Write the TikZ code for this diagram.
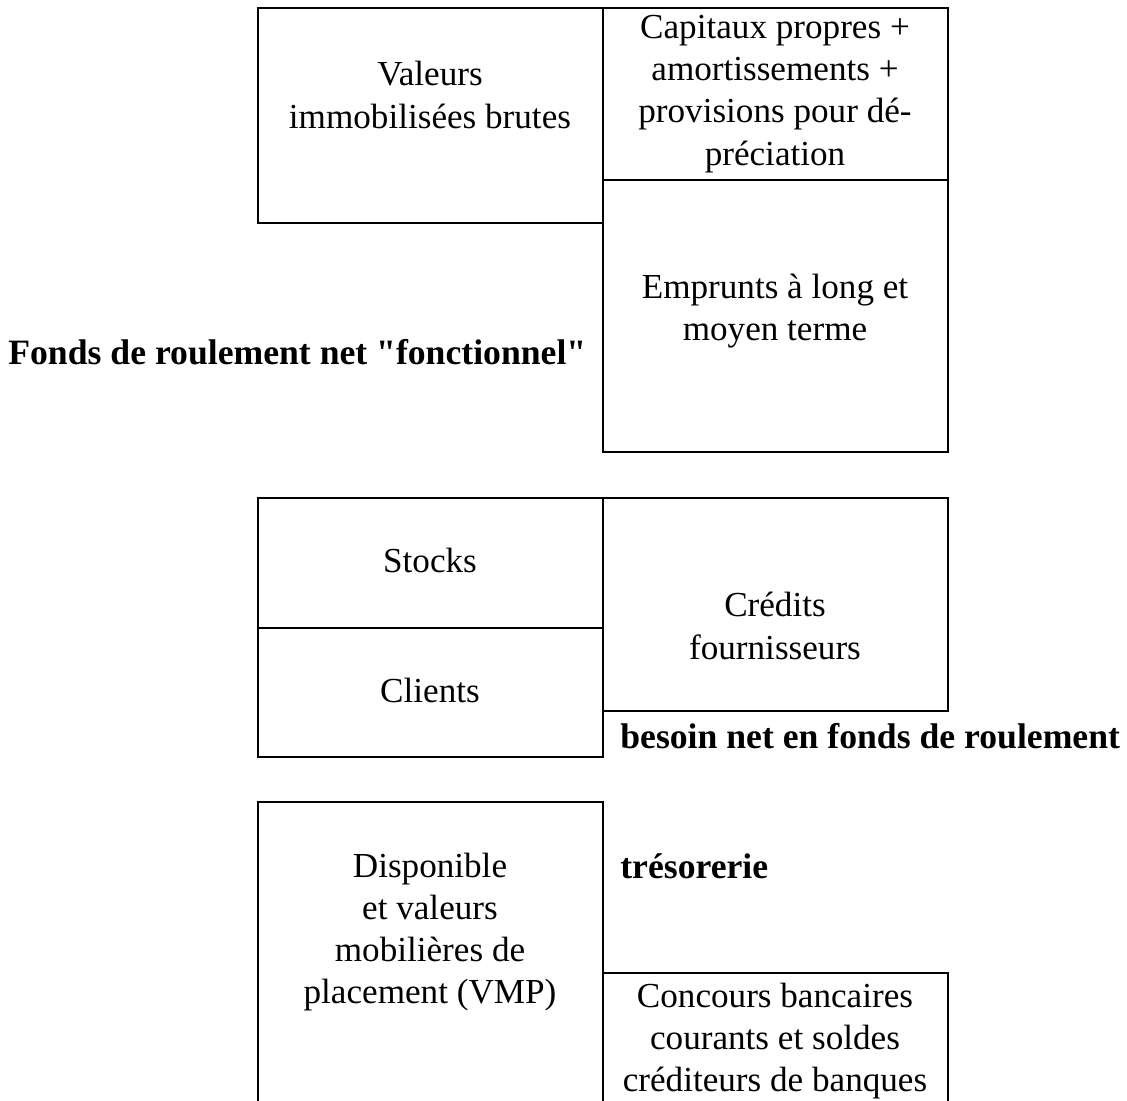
\documentclass[tikz,border=0pt]{standalone}
\usepackage{fontspec}
\setmainfont{Liberation Serif}
\newcommand{\dquote}{{\addfontfeatures{Ligatures=TeXOff}"}}

\begin{document}
\begin{tikzpicture}[x=0.02cm, y=-0.02cm,
    box/.style={draw, line width=0.9pt},
    txt/.style={align=center, font=\fontsize{20}{24}\selectfont, inner sep=0pt},
    lbl/.style={anchor=west, font=\fontsize{20.3}{24}\selectfont\bfseries, inner sep=0pt}]
  \useasboundingbox (0,0) rectangle (1127,1101);

  % haut du bilan
  \draw[box] (258,8) rectangle (603,223);
  \draw[box] (603,8) rectangle (948,180);
  \draw[box] (603,180) rectangle (948,452);
  \node[txt] (valeurs) at (430,95) {Valeurs\\immobilisées brutes};
  \node[txt] (capitaux) at (775,94) {Capitaux propres +\\amortissements +\\provisions pour dé-\\préciation};
  \node[txt] (emprunts) at (775,311) {Emprunts à long et\\moyen terme};
  \node[lbl] (frng) at (8,352) {Fonds de roulement net \dquote fonctionnel\dquote};

  % milieu
  \draw[box] (258,498) rectangle (603,628);
  \draw[box] (258,628) rectangle (603,757);
  \draw[box] (603,498) rectangle (948,711);
  \node[txt] (stocks) at (430,560) {Stocks};
  \node[txt] (clients) at (430,690) {Clients};
  \node[txt] (credits) at (775,626) {Crédits\\fournisseurs};
  \node[lbl] (bfr) at (620,736) {besoin net en fonds de roulement};

  % bas
  \draw[box] (258,802) rectangle (603,1115);
  \draw[box] (603,973) rectangle (948,1115);
  \node[txt] (dispo) at (430,932) {Disponible\\et valeurs\\mobilières de\\placement (VMP)};
  \node[lbl] (treso) at (620,866) {trésorerie};
  \node[txt] (concours) at (775,1041) {Concours bancaires\\courants et soldes\\créditeurs de banques};
\end{tikzpicture}
\end{document}
